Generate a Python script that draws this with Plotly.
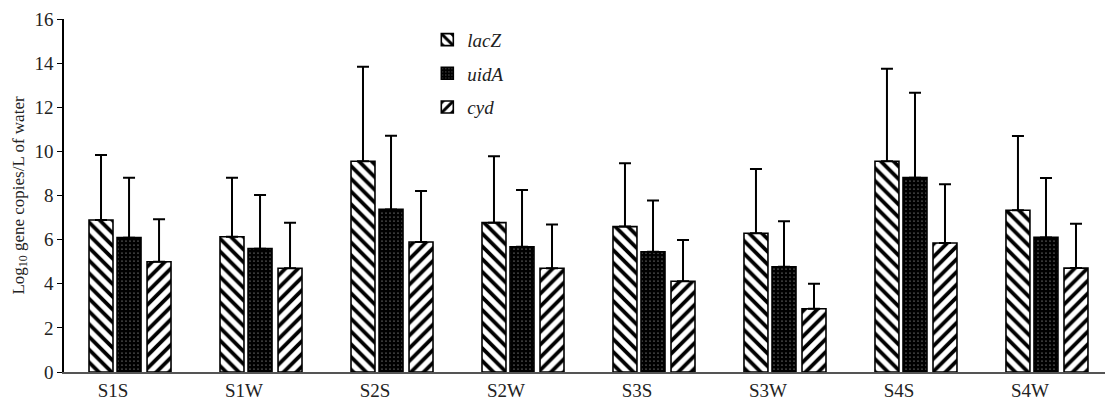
import plotly.graph_objects as go

sites = ["S1S", "S1W", "S2S", "S2W", "S3S", "S3W", "S4S", "S4W"]
series_names = ["lacZ", "uidA", "cyd"]

lacZ = [6.89, 6.13, 9.55, 6.77, 6.59, 6.29, 9.55, 7.33]
lacZ_top = [9.84, 8.81, 13.84, 9.78, 9.46, 9.20, 13.74, 10.70]
uidA = [6.09, 5.59, 7.37, 5.68, 5.45, 4.77, 8.81, 6.10]
uidA_top = [8.81, 8.02, 10.71, 8.25, 7.77, 6.83, 12.66, 8.79]
cyd = [5.00, 4.70, 5.89, 4.70, 4.11, 2.87, 5.85, 4.71]
cyd_top = [6.92, 6.77, 8.20, 6.68, 5.98, 4.00, 8.51, 6.72]

y_ticks = [0, 2, 4, 6, 8, 10, 12, 14, 16]

values = [lacZ, uidA, cyd]
tops = [lacZ_top, uidA_top, cyd_top]

styles = [
    dict(shape="\\", fg="black", bg="white", size=9, solidity=0.42, color="white"),
    dict(shape=".", fg="#cccccc", bg="black", size=4, solidity=0.07, color="black"),
    dict(shape="/", fg="black", bg="white", size=9, solidity=0.42, color="white"),
]
offsets = [-0.313, -0.099, 0.13]
bar_w = 0.183

xpos = list(range(len(sites)))
fig = go.Figure()
for i, name in enumerate(series_names):
    st = styles[i]
    vals = values[i]
    err = [t - v for t, v in zip(tops[i], vals)]
    fig.add_trace(go.Bar(
        x=xpos, y=vals, name=name, legendgroup=name,
        offset=offsets[i], width=bar_w,
        marker=dict(color=st["color"],
                    line=dict(color="black", width=1.6),
                    pattern=dict(shape=st["shape"], fgcolor=st["fg"], bgcolor=st["bg"],
                                 size=st["size"], solidity=st["solidity"], fillmode="replace")),
        error_y=dict(type="data", array=err, arrayminus=[0] * len(err), symmetric=False,
                     color="black", thickness=2, width=6),
    ))

fig.update_layout(
    width=1105, height=401,
    margin=dict(l=64, r=0, t=19, b=29),
    paper_bgcolor="white", plot_bgcolor="white",
    barmode="overlay",
    font=dict(family="Liberation Serif", size=18, color="#222"),
    showlegend=True,
    legend=dict(x=0.349, y=0.995, xanchor="left", yanchor="top",
                traceorder="grouped", tracegroupgap=6,
                font=dict(family="Liberation Serif", size=19, style="italic"),
                bgcolor="rgba(0,0,0,0)"),
)
fig.update_xaxes(range=[-0.504, 7.443], tickmode="array",
                 tickvals=[p - 0.13 for p in xpos], ticktext=sites,
                 showline=True, linecolor="#555", linewidth=2, ticks="",
                 showgrid=False, zeroline=False, tickfont=dict(size=19))
fig.update_yaxes(range=[0, 16], tickmode="array", tickvals=y_ticks,
                 showline=True, linecolor="black", linewidth=1.5,
                 ticks="outside", ticklen=5, tickcolor="black",
                 showgrid=False, zeroline=False, tickfont=dict(size=19),
                 title=dict(text="Log<sub>10</sub> gene copies/L of water",
                            font=dict(size=17), standoff=6))

fig.write_html("out.html")
